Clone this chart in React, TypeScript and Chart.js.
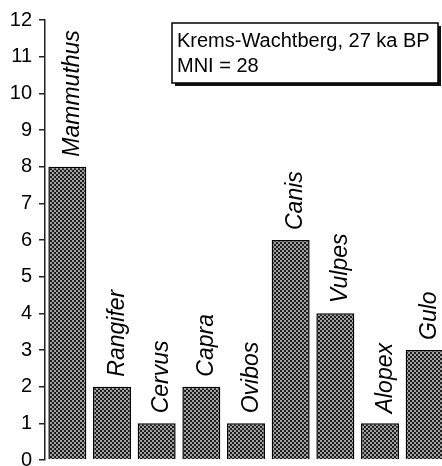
import React, { useEffect, useRef } from "react";
import { Chart, registerables } from "chart.js";

Chart.register(...registerables);

const categories = ["Mammuthus", "Rangifer", "Cervus", "Capra", "Ovibos", "Canis", "Vulpes", "Alopex", "Gulo"];
const counts = [8, 2, 1, 2, 1, 6, 4, 1, 3];
const yMin = 0;
const yMax = 12;
const boxLines = ["Krems-Wachtberg, 27 ka BP", "MNI = 28"];

const FONT = '"Liberation Sans", Arial, sans-serif';

function makePattern(ctx: CanvasRenderingContext2D): CanvasPattern | string {
  const pc = document.createElement("canvas");
  pc.width = 4;
  pc.height = 4;
  const p = pc.getContext("2d");
  if (!p) return "#555";
  p.fillStyle = "#1e1e1e";
  p.fillRect(0, 0, 4, 4);
  p.fillStyle = "#a0a0a0";
  p.fillRect(0, 0, 2, 2);
  p.fillRect(2, 2, 2, 2);
  return ctx.createPattern(pc, "repeat") || "#555";
}

const barLabelPlugin = {
  id: "barLabels",
  afterDatasetsDraw(chart: any) {
    const ctx = chart.ctx as CanvasRenderingContext2D;
    const meta = chart.getDatasetMeta(0);
    ctx.save();
    ctx.font = `italic 23px ${FONT}`;
    ctx.fillStyle = "#000";
    ctx.textAlign = "left";
    ctx.textBaseline = "alphabetic";
    meta.data.forEach((bar: any, i: number) => {
      ctx.save();
      ctx.translate(bar.x + 11.5, bar.y - 10);
      ctx.rotate(-Math.PI / 2);
      ctx.fillText(categories[i], 0, 0);
      ctx.restore();
    });
    ctx.restore();
  },
};

const boxPlugin = {
  id: "infoBox",
  afterDraw(chart: any) {
    const ctx = chart.ctx as CanvasRenderingContext2D;
    const x = 172, y = 23, w = 266, h = 60;
    ctx.save();
    ctx.fillStyle = "#111";
    ctx.fillRect(x + 3, y + 3, w, h);
    ctx.fillStyle = "#fff";
    ctx.fillRect(x, y, w, h);
    ctx.strokeStyle = "#000";
    ctx.lineWidth = 1.5;
    ctx.strokeRect(x, y, w, h);
    ctx.fillStyle = "#000";
    ctx.font = `20px ${FONT}`;
    ctx.textAlign = "left";
    ctx.textBaseline = "alphabetic";
    ctx.fillText(boxLines[0], x + 5, 47);
    ctx.fillText(boxLines[1], x + 5, 72);
    ctx.restore();
  },
};

export default function App() {
  const ref = useRef<HTMLCanvasElement | null>(null);
  useEffect(() => {
    const canvas = ref.current;
    if (!canvas) return;
    const ctx = canvas.getContext("2d");
    if (!ctx) return;
    const pattern = makePattern(ctx);
    const chart = new Chart(ctx, {
      type: "bar",
      data: {
        labels: categories,
        datasets: [
          {
            data: counts,
            backgroundColor: pattern as any,
            borderColor: "#000",
            borderWidth: 1.5,
            categoryPercentage: 1,
            barPercentage: 0.85,
          },
        ],
      },
      options: {
        responsive: false,
        animation: false,
        devicePixelRatio: 1,
        layout: { padding: { left: 0, top: 20, right: 3, bottom: 6 } },
        plugins: { legend: { display: false }, tooltip: { enabled: false } },
        scales: {
          x: { display: false },
          y: {
            min: yMin,
            max: yMax,
            afterFit: (scale: any) => {
              scale.width = 45;
              scale.paddingTop = 0;
              scale.paddingBottom = 0;
            },
            ticks: {
              stepSize: 1,
              color: "#000",
              padding: 7,
              font: { family: FONT, size: 20 },
            },
            grid: {
              display: true,
              drawOnChartArea: false,
              drawTicks: true,
              tickLength: 6,
              color: "#222",
              lineWidth: 1.5,
            },
            border: { display: true, color: "#222", width: 1.5 },
          },
        },
      },
      plugins: [barLabelPlugin, boxPlugin],
    });
    return () => chart.destroy();
  }, []);
  return (
    <div style={{ position: "fixed", left: 0, top: 0, width: 442, height: 466, overflow: "hidden", background: "#fff" }}>
      <canvas ref={ref} width={450} height={466} style={{ display: "block" }} />
    </div>
  );
}
